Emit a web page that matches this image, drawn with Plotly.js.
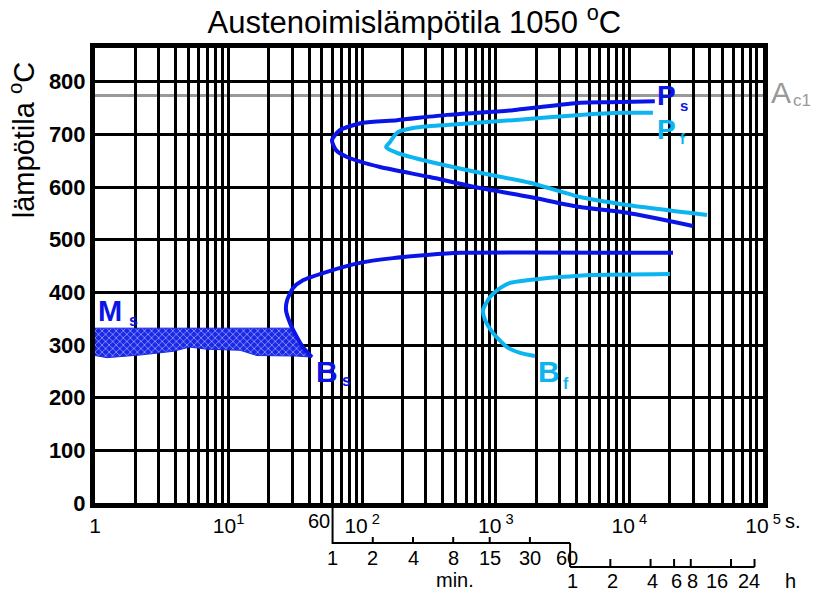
<!DOCTYPE html>
<html><head><meta charset="utf-8">
<script src="https://cdn.plot.ly/plotly-3.0.1.min.js"></script>
<style>body{margin:0;background:#fff}#chart{width:820px;height:599px}</style>
</head><body><div id="chart"></div>
<script>
// ---- data ----
const decadeTicks = [1, 10, 100, 1000, 10000, 100000];
const decadeLabels = ['1', '10<sup>1</sup>', '10<sup> 2</sup>', '10<sup> 3</sup>', '10<sup> 4</sup>', '10<sup> 5</sup>'];
const tempTicks = [0, 100, 200, 300, 400, 500, 600, 700, 800];
const minuteTicks = [1, 2, 4, 8, 15, 30, 60];
const hourTicks = [1, 2, 4, 6, 8, 16, 24];
const AC1 = 774;

const psTime = [15500, 7160, 4270, 1345, 431, 182, 101, 68, 59.4, 63.7, 77, 136, 321, 762, 1803, 4270, 9600, 29900];
const psTemp = [763, 761, 760, 746, 737, 727, 722, 708, 689, 670, 657, 638, 619, 598, 581, 562, 551, 526];

const pfTime = [15000, 8950, 4270, 1345, 431, 240, 182, 161, 151, 182, 321, 762, 1803, 4270, 9600, 38100];
const pfTemp = [741, 741, 737, 727, 718, 712, 703, 685, 676, 665, 648, 627, 608, 581, 566, 547];

const bsTime = [21200, 540, 305, 170, 96, 54.5, 36, 30.3, 27.4, 26.9, 28.8, 32.5, 36, 42];
const bsTemp = [475, 475, 471, 465, 456, 439, 423, 408, 385, 366, 342, 315, 296, 277];

const bfTime = [20100, 5340, 3020, 1713, 1278, 1075, 905, 802, 830, 953, 1214, 1518, 1964];
const bfTemp = [435, 433, 429, 423, 418, 408, 391, 366, 348, 323, 296, 285, 279];

const msTime = [1, 30.5, 32.5, 36, 42, 32.5, 16.3, 12.2, 6.9, 5.1, 3.84, 2.17, 1.23, 1];
const msTemp = [332, 332, 315, 296, 277, 279, 280, 290, 292, 296, 288, 281, 276, 280];

// ---- styling ----
const DARK = '#0a14e6';
const LIGHT = '#0cb4f0';
const GREY = '#999999';
const FONT = 'Liberation Sans, Arial, sans-serif';

const minorVals = [];
for (let k = 0; k < 5; k++) {
  for (let d = 2; d <= 9; d++) minorVals.push(d * Math.pow(10, k));
}

const traces = [
  {x: msTime, y: msTemp, type: 'scatter', mode: 'lines', fill: 'toself',
   line: {color: '#1a28e8', width: 1}, fillcolor: '#1a28e8',
   fillpattern: {shape: 'x', fgcolor: '#d8dcff', bgcolor: '#1a28e8', size: 5, solidity: 0.2},
   hoverinfo: 'skip'},
  {x: psTime, y: psTemp, type: 'scatter', mode: 'lines', line: {color: DARK, width: 4, shape: 'spline', smoothing: 0.6}},
  {x: pfTime, y: pfTemp, type: 'scatter', mode: 'lines', line: {color: LIGHT, width: 4, shape: 'spline', smoothing: 0.6}},
  {x: bsTime, y: bsTemp, type: 'scatter', mode: 'lines', line: {color: DARK, width: 4, shape: 'spline', smoothing: 0.6}},
  {x: bfTime, y: bfTemp, type: 'scatter', mode: 'lines', line: {color: LIGHT, width: 4, shape: 'spline', smoothing: 0.6}}
];

const L = Math.log10;
function pyOf(pix) { return (503 - pix) / 455; }

const shapes = [
  {type: 'line', xref: 'paper', yref: 'y', x0: 0, x1: 1, y0: AC1, y1: AC1, layer: 'below',
   line: {color: GREY, width: 3}},
  // minute axis
  {type: 'line', xref: 'x', yref: 'paper', x0: 60, x1: 60, y0: 0, y1: pyOf(544), line: {color: 'black', width: 2}},
  {type: 'line', xref: 'x', yref: 'paper', x0: 60, x1: 3600, y0: pyOf(543), y1: pyOf(543), line: {color: 'black', width: 2}},
  // hour axis
  {type: 'line', xref: 'x', yref: 'paper', x0: 3600, x1: 3600, y0: pyOf(543), y1: pyOf(567), line: {color: 'black', width: 2}},
  {type: 'line', xref: 'x', yref: 'paper', x0: 3600, x1: 86400, y0: pyOf(567), y1: pyOf(567), line: {color: 'black', width: 2}}
];
minuteTicks.slice(1, -1).forEach(m => shapes.push({type: 'line', xref: 'x', yref: 'paper',
  x0: m * 60, x1: m * 60, y0: pyOf(543), y1: pyOf(537), line: {color: 'black', width: 2}}));
hourTicks.slice(1).forEach(h => shapes.push({type: 'line', xref: 'x', yref: 'paper',
  x0: h * 3600, x1: h * 3600, y0: pyOf(567), y1: pyOf(559), line: {color: 'black', width: 2}}));

const ann = [];
function txt(t, x, y, opts) {
  ann.push(Object.assign({text: t, x: x, y: y, showarrow: false,
    font: {family: FONT, size: 20, color: 'black'}}, opts));
}
// y-axis title
txt('lämpötila <sup>o</sup>C', -0.11, 688, {xref: 'paper', yref: 'y', textangle: -90,
  font: {family: FONT, size: 29, color: 'black'}, xanchor: 'center', yanchor: 'middle'});
// seconds extras
txt('60', L(60), pyOf(521), {xref: 'x', yref: 'paper', xanchor: 'right', xshift: -1, yanchor: 'middle'});
txt('s.', L(100000), pyOf(521), {xref: 'x', yref: 'paper', xanchor: 'left', xshift: 20, yanchor: 'middle'});
// minute labels
const minShift = {60: -3};
minuteTicks.forEach(m => txt(String(m), L(m * 60), pyOf(558), {xref: 'x', yref: 'paper', yanchor: 'middle', xshift: minShift[m] || 0}));
txt('min.', L(480), pyOf(580), {xref: 'x', yref: 'paper', yanchor: 'middle', xshift: 2});
// hour labels
const hourShift = {16: -16, 24: -8};
hourTicks.forEach(h => txt(String(h), L(h * 3600), pyOf(581), {xref: 'x', yref: 'paper', yanchor: 'middle', xshift: (hourShift[h] || 0) + 2}));
txt('h', L(86400), pyOf(581), {xref: 'x', yref: 'paper', yanchor: 'middle', xanchor: 'left', xshift: 28});

// curve labels: main letter + small subscript as separate texts
const bold = (c, s) => ({family: FONT, size: s, color: c, weight: 'bold'});
function lab(main, sub, color, lx, ly, sx, sy, big, small) {
  txt(main, lx, ly, {xref: 'x', yref: 'y', xanchor: 'left', yanchor: 'middle', font: bold(color, big)});
  txt(sub, sx, sy, {xref: 'x', yref: 'y', xanchor: 'left', yanchor: 'middle', font: bold(color, small)});
}
lab('M', 's', DARK, 0.005, 364, 0.24, 346, 29, 16);
lab('P', 's', DARK, 4.195, 773, 4.365, 754, 28, 15);
lab('P', 'f', LIGHT, 4.19, 710, 4.365, 693, 28, 15);
lab('B', 's', DARK, 1.64, 250, 1.835, 232, 30, 16);
lab('B', 'f', LIGHT, 3.30, 250, 3.485, 226, 30, 16);
// Ac1 (right of plot)
txt('A', 1, 780, {xref: 'paper', yref: 'y', xanchor: 'left', yanchor: 'middle', xshift: 6,
  font: {family: FONT, size: 30, color: GREY}});
txt('c1', 1, 764, {xref: 'paper', yref: 'y', xanchor: 'left', yanchor: 'middle', xshift: 28,
  font: {family: FONT, size: 17, color: GREY}});

const layout = {
  width: 820, height: 599,
  margin: {l: 95, r: 57, t: 48, b: 96},
  paper_bgcolor: 'white', plot_bgcolor: 'white',
  showlegend: false,
  title: {text: 'Austenoimislämpötila 1050 <sup>o</sup>C', x: 0.478, xref: 'paper', y: 0.963, yanchor: 'middle',
    font: {family: FONT, size: 31, color: 'black'}},
  xaxis: {type: 'log', range: [0, 5], tickvals: decadeTicks, ticktext: decadeLabels,
    showgrid: true, gridcolor: 'black', gridwidth: 3, ticks: '',
    minor: {tickvals: minorVals, showgrid: true, gridcolor: 'black', gridwidth: 3, ticks: ''},
    showline: true, linecolor: 'black', linewidth: 5, mirror: true, zeroline: false,
    tickfont: {family: FONT, size: 21, color: 'black'}, tickangle: 0, fixedrange: true},
  yaxis: {range: [0, 864], tickvals: tempTicks, showgrid: true, gridcolor: 'black', gridwidth: 3,
    ticks: '', showline: true, linecolor: 'black', linewidth: 5, mirror: true, zeroline: false,
    tickfont: {family: FONT, size: 22, color: 'black', weight: 'bold'}, fixedrange: true},
  shapes: shapes,
  annotations: ann
};

Plotly.newPlot('chart', traces, layout, {displayModeBar: false, staticPlot: true});
</script>
</body></html>
